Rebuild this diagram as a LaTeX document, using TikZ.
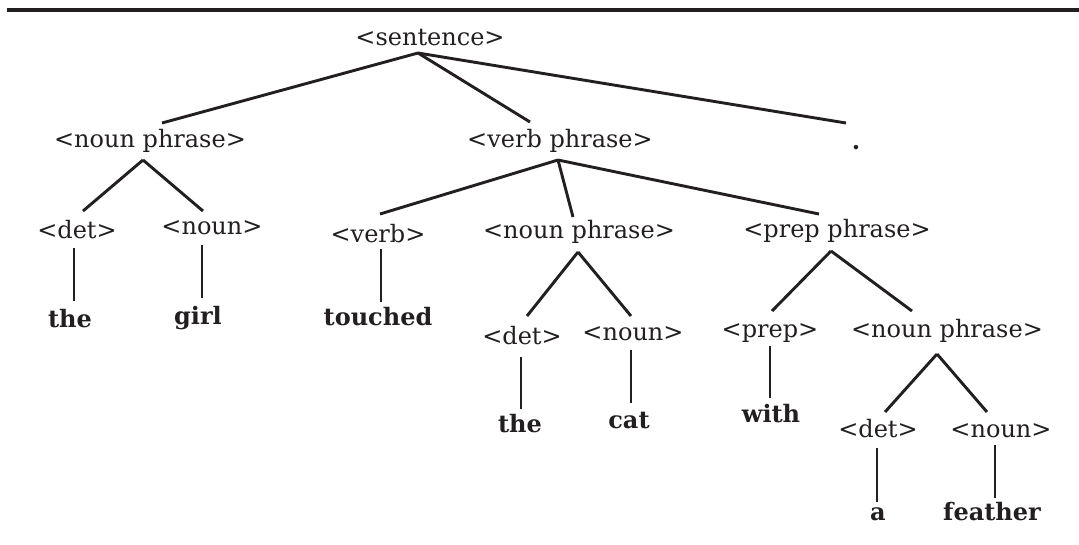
\documentclass[tikz,border=0pt]{standalone}
\usepackage{fontspec}
\setmainfont{DejaVu Serif}
\definecolor{ink}{RGB}{35,31,32}
\tikzset{
  lbl/.style={anchor=base, inner sep=0pt, text=ink, font=\fontsize{24pt}{28pt}\selectfont},
  word/.style={lbl, font=\fontsize{24pt}{28pt}\selectfont\bfseries},
  branch/.style={draw=ink, line width=2.9pt},
  rule/.style={draw=ink, line width=3.3pt}
}
\begin{document}
\begin{tikzpicture}[x=1pt,y=-1pt]
\fill[white] (0,0) rectangle (1079,544);
\useasboundingbox (0,0) rectangle (1079,544);
\draw[rule] (7,10) -- (1079,10);

% level 0
\node[lbl] (S) at (430,45) {<sentence>};
% level 1
\node[lbl] (NPa) at (150,147) {<noun phrase>};
\node[lbl] (VP) at (560,147) {<verb phrase>};
\node[word] (dot) at (856,149) {.};
% under NPa
\node[lbl] (DETa) at (77,238) {<det>};
\node[lbl] (Na) at (212,234) {<noun>};
\node[word] (the1) at (70,327) {the};
\node[word] (girl) at (198,324) {girl};
% under VP
\node[lbl] (V) at (378,242) {<verb>};
\node[lbl] (NPb) at (579,238) {<noun phrase>};
\node[lbl] (PP) at (837,237) {<prep phrase>};
\node[word] (touched) at (378,325) {touched};
% under NPb
\node[lbl] (DETb) at (522,344) {<det>};
\node[lbl] (Nb) at (633,340) {<noun>};
\node[word] (the2) at (520,432) {the};
\node[word] (cat) at (629,428) {cat};
% under PP
\node[lbl] (P) at (770,337) {<prep>};
\node[lbl] (NPc) at (947,337) {<noun phrase>};
\node[word] (with) at (771,422) {with};
% under NPc
\node[lbl] (DETc) at (878,437) {<det>};
\node[lbl] (Nc) at (1001,437) {<noun>};
\node[word] (a) at (878,520) {a};
\node[word] (feather) at (992,520) {feather};

% connectors (shifts: x right, y down)
\draw[branch] ([shift={(-12,8)}]S.base) -- ([shift={(12,-24)}]NPa.base);
\draw[branch] ([shift={(-12,8)}]S.base) -- ([shift={(-30,-25)}]VP.base);
\draw[branch] ([shift={(-12,8)}]S.base) -- ([shift={(-10,-26)}]dot.base);

\draw[branch] ([shift={(-7,13)}]NPa.base) -- ([shift={(6,-27)}]DETa.base);
\draw[branch] ([shift={(-7,13)}]NPa.base) -- ([shift={(-9,-23)}]Na.base);
\draw[branch] ([shift={(-3,10)}]DETa.base) -- ([shift={(4,-26)}]the1.base);
\draw[branch] ([shift={(-10,11)}]Na.base) -- ([shift={(4,-26)}]girl.base);

\draw[branch] ([shift={(-2,13)}]VP.base) -- ([shift={(2,-28)}]V.base);
\draw[branch] ([shift={(-2,13)}]VP.base) -- ([shift={(-6,-21)}]NPb.base);
\draw[branch] ([shift={(-2,13)}]VP.base) -- ([shift={(-18,-23)}]PP.base);
\draw[branch] ([shift={(3,7)}]V.base) -- ([shift={(3,-23)}]touched.base);

\draw[branch] ([shift={(-1,14)}]NPb.base) -- ([shift={(5,-28)}]DETb.base);
\draw[branch] ([shift={(-1,14)}]NPb.base) -- ([shift={(-2,-24)}]Nb.base);
\draw[branch] ([shift={(-1,13)}]DETb.base) -- ([shift={(1,-23)}]the2.base);
\draw[branch] ([shift={(-2,10)}]Nb.base) -- ([shift={(2,-25)}]cat.base);

\draw[branch] ([shift={(-6,14)}]PP.base) -- ([shift={(2,-26)}]P.base);
\draw[branch] ([shift={(-6,14)}]PP.base) -- ([shift={(-35,-26)}]NPc.base);
\draw[branch] ([shift={(0,9)}]P.base) -- ([shift={(-1,-24)}]with.base);

\draw[branch] ([shift={(-10,17)}]NPc.base) -- ([shift={(7,-25)}]DETc.base);
\draw[branch] ([shift={(-10,17)}]NPc.base) -- ([shift={(-14,-25)}]Nc.base);
\draw[branch] ([shift={(-1,11)}]DETc.base) -- ([shift={(-1,-18)}]a.base);
\draw[branch] ([shift={(-6,8)}]Nc.base) -- ([shift={(3,-22)}]feather.base);
\end{tikzpicture}
\end{document}
